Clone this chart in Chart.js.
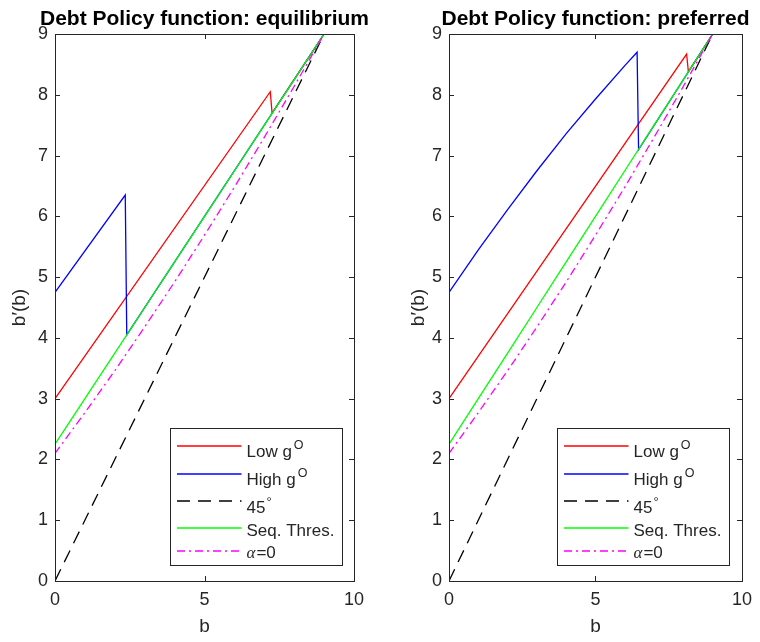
<!DOCTYPE html>
<html>
<head>
<meta charset="utf-8">
<script src="https://cdn.jsdelivr.net/npm/chart.js@4/dist/chart.umd.min.js"></script>
<style>
  html, body { margin: 0; padding: 0; background: #fff; }
  #wrap { position: relative; width: 760px; height: 642px; }
  canvas { position: absolute; top: 0; }
</style>
</head>
<body>
<div id="wrap">
  <canvas id="eq" width="380" height="642" style="left:0"></canvas>
  <canvas id="pref" width="380" height="642" style="left:380px"></canvas>
</div>
<script>
// ---- data ----
const xTicks = [0, 5, 10];
const yTicks = [0, 1, 2, 3, 4, 5, 6, 7, 8, 9];

const bGrid     = [0, 1, 2, 3, 4, 5, 6, 7, 8, 9];
const seqThres  = [2.25, 3.00, 3.75, 4.50, 5.25, 6.00, 6.75, 7.50, 8.25, 9.00];
const alphaZero = [2.10, 2.77, 3.46, 4.18, 4.92, 5.69, 6.48, 7.30, 8.14, 9.00];
const diagX = [0, 9];
const diagY = [0, 9];

// equilibrium panel
const lowEqX  = [0, 7.20, 7.26, 9];
const lowEqY  = [3.00, 8.05, 7.70, 9.00];
const highEqX = [0, 2.35, 2.40, 9];
const highEqY = [4.75, 6.35, 4.05, 9.00];

// preferred panel
const lowPrefX  = [0, 8.11, 8.17, 9];
const lowPrefY  = [3.00, 8.67, 8.38, 9.00];
const highPrefX = [0, 1, 2, 3, 4, 5, 6, 6.42, 6.47, 9];
const highPrefY = [4.75, 5.45, 6.11, 6.75, 7.36, 7.93, 8.48, 8.70, 7.10, 9.00];

const AXIS = '#262626';
const FONT = '"Liberation Sans", Arial, Helvetica, sans-serif';

const pts = (xs, ys) => xs.map((x, i) => ({ x, y: ys[i] }));

// legend rows: text parts drawn by hand (superscripts, TeX alpha)
// part = [text, size, rise, style, gapBefore]
const legendRows = [
  { color: '#ff0000', dash: [],           dy: 17,  base: 10.5, parts: [['Low g', 17, 0], ['O', 12.5, -8, '', 2]] },
  { color: '#0000ff', dash: [],           dy: 45,  base: 10.5, parts: [['High g', 17, 0], ['O', 12.5, -8, '', 2]] },
  { color: '#000000', dash: [13, 8],      dy: 72.5, base: 11.5, parts: [['45', 17, 0], ['°', 13, -7, '', 1]] },
  { color: '#00ff00', dash: [],           dy: 99,  base: 7.5,  parts: [['Seq. Thres.', 17, 0]] },
  { color: '#ff00ff', dash: [8, 4, 2, 4], dy: 122.5, base: 7,  parts: [['α', 17, 0, 'italic'], ['=0', 17, 0, '', 1]] }
];

const matlabAxes = {
  id: 'matlabAxes',
  afterDraw(chart) {
    const { ctx, chartArea: a, scales: { x, y } } = chart;
    ctx.save();
    ctx.strokeStyle = AXIS;
    ctx.lineWidth = 1;
    ctx.setLineDash([]);
    ctx.strokeRect(a.left + 0.5, a.top + 0.5, a.right - a.left, a.bottom - a.top);

    // inward ticks on all four sides
    ctx.beginPath();
    x.ticks.forEach(t => {
      const px = Math.round(x.getPixelForValue(t.value)) + 0.5;
      ctx.moveTo(px, a.bottom); ctx.lineTo(px, a.bottom - 5);
      ctx.moveTo(px, a.top);    ctx.lineTo(px, a.top + 5);
    });
    y.ticks.forEach(t => {
      const py = Math.round(y.getPixelForValue(t.value)) + 0.5;
      ctx.moveTo(a.left, py);  ctx.lineTo(a.left + 5, py);
      ctx.moveTo(a.right, py); ctx.lineTo(a.right - 5, py);
    });
    ctx.stroke();

    // title
    ctx.fillStyle = '#000';
    ctx.font = 'bold 21px ' + FONT;
    ctx.textAlign = 'center';
    ctx.textBaseline = 'alphabetic';
    ctx.fillText(chart.options.panelTitle, (a.left + a.right) / 2, 25);

    // legend box, lower right inside the axes
    const w = 172, h = 137;
    const bx = Math.round(a.right - 12.5 - w) + 0.5;
    const by = Math.round(a.bottom - 16 - h) + 0.5;
    ctx.fillStyle = '#fff';
    ctx.fillRect(bx, by, w, h);
    ctx.strokeStyle = AXIS;
    ctx.strokeRect(bx, by, w, h);
    legendRows.forEach(r => {
      const ly = Math.round(by + r.dy);
      ctx.strokeStyle = r.color;
      ctx.lineWidth = 1.4;
      ctx.setLineDash(r.dash);
      ctx.beginPath();
      ctx.moveTo(bx + 6.5, ly); ctx.lineTo(bx + 71, ly);
      ctx.stroke();
      ctx.setLineDash([]);
      let tx = bx + 76;
      ctx.textAlign = 'left';
      ctx.fillStyle = AXIS;
      r.parts.forEach(([txt, size, rise, style, gap]) => {
        tx += gap || 0;
        ctx.font = style === 'italic'
          ? 'italic ' + size + 'px "Liberation Serif", "DejaVu Serif", serif'
          : size + 'px ' + FONT;
        ctx.fillText(txt, tx, ly + r.base + rise);
        tx += ctx.measureText(txt).width;
      });
    });
    ctx.restore();
  }
};

function makePanel(id, title, lowX, lowY, highX, highY, yAxisWidth, rightPad, yTitlePad) {
  return new Chart(document.getElementById(id), {
    type: 'scatter',
    data: {
      datasets: [
        { label: 'Low gO',  data: pts(lowX, lowY),   borderColor: '#ff0000', order: 5 },
        { label: 'High gO', data: pts(highX, highY), borderColor: '#0000ff', order: 4 },
        { label: '45°',     data: pts(diagX, diagY), borderColor: '#000000', borderDash: [13, 8], order: 3 },
        { label: 'Seq. Thres.', data: pts(bGrid, seqThres), borderColor: '#00ff00', order: 2 },
        { label: 'α=0',     data: pts(bGrid, alphaZero), borderColor: '#ff00ff', borderDash: [8, 4, 2, 4], order: 1 }
      ].map(d => Object.assign(d, { showLine: true, pointRadius: 0, borderWidth: 1.3, fill: false, tension: 0 }))
    },
    options: {
      panelTitle: title,
      responsive: false,
      animation: false,
      events: [],
      layout: { padding: { top: 34, right: rightPad, left: 0, bottom: 0 } },
      plugins: { legend: { display: false }, tooltip: { enabled: false } },
      scales: {
        x: {
          type: 'linear', min: 0, max: 10,
          afterBuildTicks: s => { s.ticks = xTicks.map(v => ({ value: v })); },
          afterFit: s => { s.height = 61; },
          grid: { display: false, drawTicks: false },
          border: { display: false },
          ticks: { color: AXIS, padding: 8, font: { family: FONT, size: 18 }, maxRotation: 0 },
          title: { display: true, text: 'b', color: AXIS, font: { family: FONT, size: 19 }, padding: { top: 0, bottom: 4 } }
        },
        y: {
          type: 'linear', min: 0, max: 9,
          afterBuildTicks: s => { s.ticks = yTicks.map(v => ({ value: v })); },
          afterFit: s => { s.width = yAxisWidth; },
          grid: { display: false, drawTicks: false },
          border: { display: false },
          ticks: { color: AXIS, padding: 7, font: { family: FONT, size: 18 } },
          title: { display: true, text: 'b′(b)', color: AXIS, font: { family: FONT, size: 19 }, padding: { top: yTitlePad, bottom: 0 } }
        }
      }
    },
    plugins: [matlabAxes]
  });
}

makePanel('eq', 'Debt Policy function: equilibrium', lowEqX, lowEqY, highEqX, highEqY, 55, 26, 8);
makePanel('pref', 'Debt Policy function: preferred', lowPrefX, lowPrefY, highPrefX, highPrefY, 69, 11, 27);
</script>
</body>
</html>
